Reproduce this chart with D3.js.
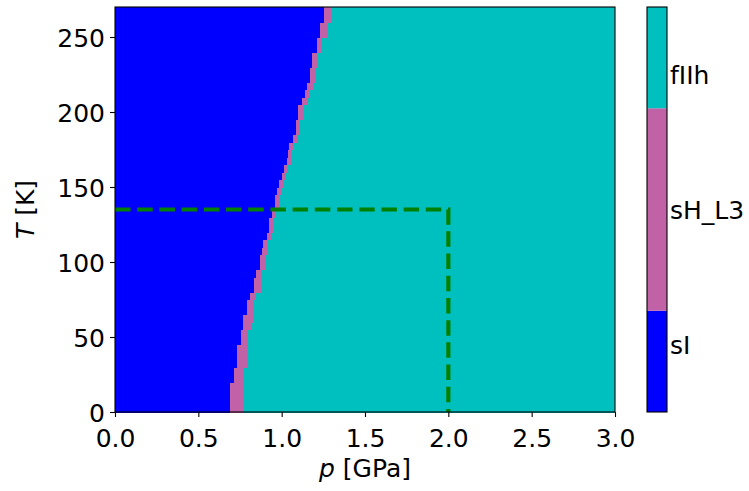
<!DOCTYPE html>
<html>
<head>
<meta charset="utf-8">
<script src="https://cdn.jsdelivr.net/npm/d3@7"></script>
<style>
  html, body { margin: 0; padding: 0; background: #fff; }
  svg { display: block; font-family: "DejaVu Sans", sans-serif; }
</style>
</head>
<body>
<svg id="chart" width="749" height="491"></svg>
<script>
// Phase labels and their colours (colorbar order, bottom to top)
const phases = ["sI", "sH_L3", "fIIh"];
const phaseColors = ["#0000ff", "#c162a6", "#00bfbf"];

// Temperature rows (lower edge of each 5 K row), in K
const tempRows = [0, 5, 10, 15, 20, 25, 30, 35, 40, 45, 50, 55, 60, 65, 70, 75, 80, 85,
  90, 95, 100, 105, 110, 115, 120, 125, 130, 135, 140, 145, 150, 155, 160, 165, 170, 175,
  180, 185, 190, 195, 200, 205, 210, 215, 220, 225, 230, 235, 240, 245, 250, 255, 260, 265];
const rowHeight = 5;

// Transition pressure sI -> sH_L3 for each row, GPa
const pSItoSH = [0.690, 0.690, 0.690, 0.690, 0.714, 0.714, 0.730, 0.730, 0.730, 0.756,
  0.756, 0.768, 0.768, 0.792, 0.792, 0.808, 0.834, 0.834, 0.848, 0.868,
  0.868, 0.884, 0.890, 0.910, 0.924, 0.924, 0.940, 0.960, 0.960, 0.974,
  0.986, 1.000, 1.016, 1.030, 1.036, 1.044, 1.066, 1.086, 1.086, 1.100,
  1.100, 1.120, 1.140, 1.154, 1.170, 1.170, 1.184, 1.184, 1.210, 1.210,
  1.230, 1.230, 1.254, 1.254];

// Transition pressure sH_L3 -> fIIh for each row, GPa
const pSHtoFIIh = [0.772, 0.772, 0.772, 0.772, 0.772, 0.772, 0.790, 0.790, 0.790, 0.790,
  0.800, 0.818, 0.828, 0.828, 0.828, 0.848, 0.874, 0.874, 0.878, 0.898,
  0.898, 0.914, 0.914, 0.934, 0.948, 0.948, 0.962, 0.982, 0.982, 0.996,
  1.008, 1.022, 1.040, 1.054, 1.060, 1.070, 1.090, 1.110, 1.110, 1.128,
  1.128, 1.150, 1.170, 1.190, 1.200, 1.200, 1.216, 1.216, 1.240, 1.240,
  1.270, 1.270, 1.300, 1.300];

// Axis ranges and ticks
const pDomain = [0, 3];
const tDomain = [0, 270];
const pTicks = [0, 0.5, 1.0, 1.5, 2.0, 2.5, 3.0];
const tTicks = [0, 50, 100, 150, 200, 250];

// Dashed guide path (pressure, temperature)
const guideP = [0, 2.0, 2.0];
const guideT = [135, 135, 0];

// Colorbar value range, colour boundaries and tick positions
const cbarDomain = [-0.5, 2.5];
const cbarBounds = [-0.5, 0.25, 1.75, 2.5];
const cbarTicks = [0, 1, 2];

const svg = d3.select("#chart");
const plot = { left: 115, right: 615, top: 7, bottom: 412 };
const cbar = { left: 647, right: 667 };

const x = d3.scaleLinear().domain(pDomain).range([plot.left, plot.right]);
const y = d3.scaleLinear().domain(tDomain).range([plot.bottom, plot.top]);

// Phase map: one horizontal strip per temperature row, split into three phases
const rows = tempRows.map((t, i) => ({
  t0: t, t1: t + rowHeight,
  segs: [[pDomain[0], pSItoSH[i], 0], [pSItoSH[i], pSHtoFIIh[i], 1], [pSHtoFIIh[i], pDomain[1], 2]]
}));

const map = svg.append("g").attr("shape-rendering", "crispEdges");
rows.forEach(r => {
  map.selectAll(null)
    .data(r.segs)
    .enter().append("rect")
    .attr("x", d => x(d[0]))
    .attr("width", d => x(d[1]) - x(d[0]))
    .attr("y", y(r.t1))
    .attr("height", y(r.t0) - y(r.t1) + 0.5)
    .attr("fill", d => phaseColors[d[2]]);
});

// Dashed guide
const guide = d3.line().x(d => x(d[0])).y(d => y(d[1]));
svg.append("path")
  .attr("d", guide(guideP.map((p, i) => [p, guideT[i]])))
  .attr("fill", "none")
  .attr("stroke", "#008000")
  .attr("stroke-width", 4.2)
  .attr("stroke-dasharray", "15.5 6.7");

// Axes
const fontSize = 25;
const xAxis = svg.append("g")
  .attr("transform", `translate(0,${plot.bottom})`)
  .call(d3.axisBottom(x).tickValues(pTicks).tickFormat(d3.format(".1f")).tickSize(5).tickPadding(6));
const yAxis = svg.append("g")
  .attr("transform", `translate(${plot.left},0)`)
  .call(d3.axisLeft(y).tickValues(tTicks).tickSize(5).tickPadding(5));

[xAxis, yAxis].forEach(g => {
  g.select(".domain").remove();
  g.selectAll(".tick line").attr("stroke", "#000").attr("stroke-width", 1.1);
  g.selectAll(".tick text")
    .attr("font-family", "DejaVu Sans, sans-serif")
    .attr("font-size", fontSize)
    .attr("fill", "#000");
});
xAxis.selectAll(".tick text").attr("dy", null).attr("y", 35);
yAxis.selectAll(".tick text").attr("dy", "0.36em");

// Plot frame
svg.append("rect")
  .attr("x", plot.left).attr("y", plot.top)
  .attr("width", plot.right - plot.left).attr("height", plot.bottom - plot.top)
  .attr("fill", "none").attr("stroke", "#000").attr("stroke-width", 1.1);

// Axis titles
const xt = svg.append("text")
  .attr("x", (plot.left + plot.right) / 2).attr("y", 477)
  .attr("text-anchor", "middle").attr("font-size", fontSize);
xt.append("tspan").attr("font-style", "italic").text("p");
xt.append("tspan").text(" [GPa]");

const yt = svg.append("text")
  .attr("transform", `translate(34,${(plot.top + plot.bottom) / 2}) rotate(-90)`)
  .attr("text-anchor", "middle").attr("font-size", fontSize);
yt.append("tspan").attr("font-style", "italic").text("T");
yt.append("tspan").text(" [K]");

// Colorbar
const cy = d3.scaleLinear().domain(cbarDomain).range([plot.bottom, plot.top]);
svg.append("g").selectAll("rect")
  .data(phases)
  .enter().append("rect")
  .attr("x", cbar.left)
  .attr("width", cbar.right - cbar.left)
  .attr("y", (d, i) => cy(cbarBounds[i + 1]))
  .attr("height", (d, i) => cy(cbarBounds[i]) - cy(cbarBounds[i + 1]))
  .attr("fill", (d, i) => phaseColors[i]);
svg.append("rect")
  .attr("x", cbar.left).attr("y", plot.top)
  .attr("width", cbar.right - cbar.left).attr("height", plot.bottom - plot.top)
  .attr("fill", "none").attr("stroke", "#000").attr("stroke-width", 1.1);
svg.append("g").selectAll("text")
  .data(cbarTicks)
  .enter().append("text")
  .attr("x", cbar.right + 3)
  .attr("y", d => cy(d))
  .attr("dy", "0.36em")
  .attr("font-size", fontSize)
  .attr("fill", "#000")
  .text(d => phases[d]);
</script>
</body>
</html>
